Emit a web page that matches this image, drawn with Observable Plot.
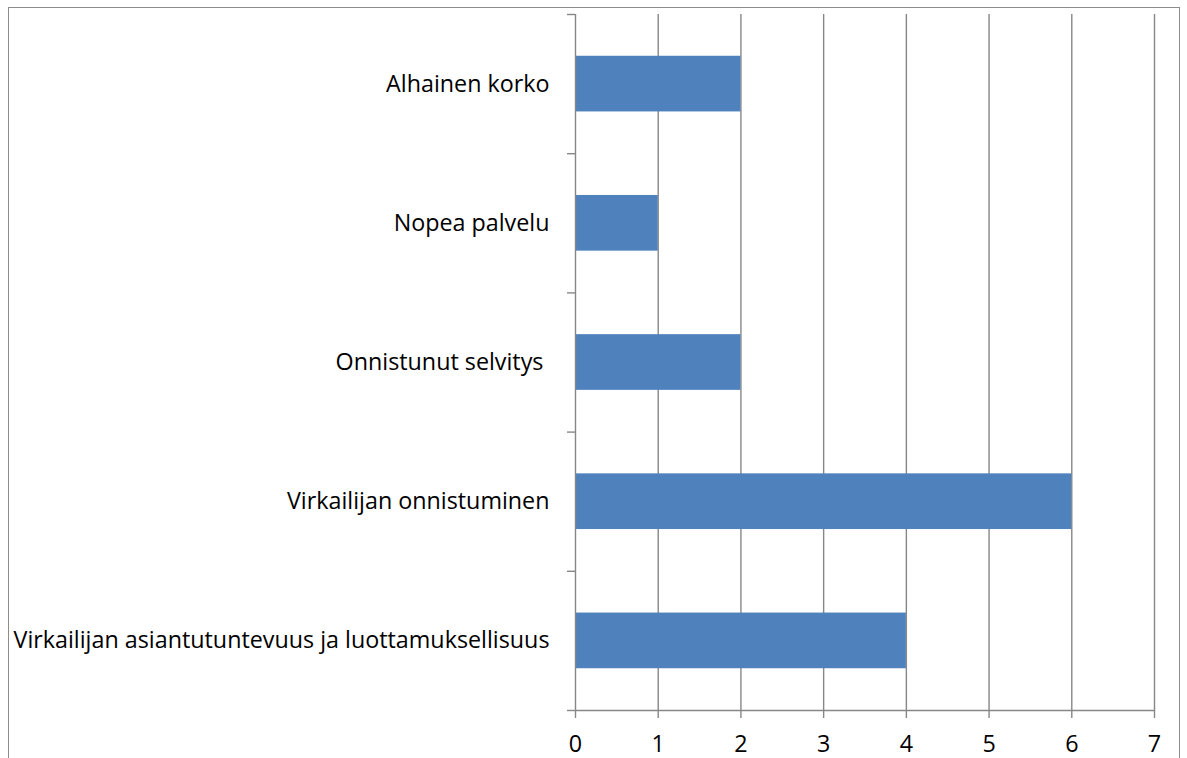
<!DOCTYPE html>
<html>
<head>
<meta charset="utf-8">
<script src="https://cdn.jsdelivr.net/npm/d3@7"></script>
<script src="https://cdn.jsdelivr.net/npm/@observablehq/plot@0.6"></script>
<style>
  html, body { margin: 0; padding: 0; background: #fff; overflow: hidden; }
  #wrap { position: relative; width: 1187px; height: 758px; }
  #frame { position: absolute; left: 8px; top: 7px; width: 1172px; height: 800px; border: 1.5px solid #8c8c8c; box-sizing: border-box; }
  #chart { position: absolute; left: 0; top: 0; }
  #chart svg text { white-space: pre; }
</style>
</head>
<body>
<div id="wrap">
  <div id="frame"></div>
  <div id="chart"></div>
</div>
<script>
// Categories listed from the bottom of the chart upwards
const categories = [
  "Virkailijan asiantutuntevuus ja luottamuksellisuus",
  "Virkailijan onnistuminen",
  "Onnistunut selvitys ",
  "Nopea palvelu",
  "Alhainen korko"
];
const counts = [4, 6, 2, 1, 2];
const xTicks = [0, 1, 2, 3, 4, 5, 6, 7];

const rows = categories.map((name, i) => ({name, value: counts[i], slot: i}));
const boundaries = d3.range(categories.length + 1);
const centers = categories.map((_, i) => i + 0.5);

const gray = "#878787";
const font = "'Open Sans', sans-serif";

const chart = Plot.plot({
  width: 1187,
  height: 758,
  marginLeft: 575,
  marginRight: 33,
  marginTop: 14,
  marginBottom: 48,
  style: {fontFamily: font, fontSize: "23.3px", color: "#000", background: "transparent"},
  x: {domain: [0, 7]},
  y: {domain: [0, categories.length]},
  marks: [
    Plot.ruleX(xTicks.slice(1), {stroke: gray, strokeWidth: 1.4}),
    Plot.rectX(rows, {x1: 0, x2: "value", y1: d => d.slot + 0.3, y2: d => d.slot + 0.7, fill: "#4F81BD"}),
    Plot.ruleX([0], {stroke: gray, strokeWidth: 1.4}),
    Plot.ruleY([0], {stroke: gray, strokeWidth: 1.4}),
    Plot.axisX({ticks: xTicks, tickSize: 8, tickPadding: 17, tickFormat: d => String(d), stroke: gray, strokeWidth: 1.4, strokeOpacity: 1, fontSize: 23.3, label: null}),
    Plot.axisY({ticks: boundaries, tickSize: 8, tickFormat: () => "", stroke: gray, strokeWidth: 1.4, strokeOpacity: 1, label: null}),
    Plot.axisY({ticks: centers, tickSize: 0, tickPadding: 26, tickFormat: d => categories[Math.floor(d)], fontSize: 23.3, label: null})
  ]
});

document.getElementById("chart").appendChild(chart);
</script>
</body>
</html>
